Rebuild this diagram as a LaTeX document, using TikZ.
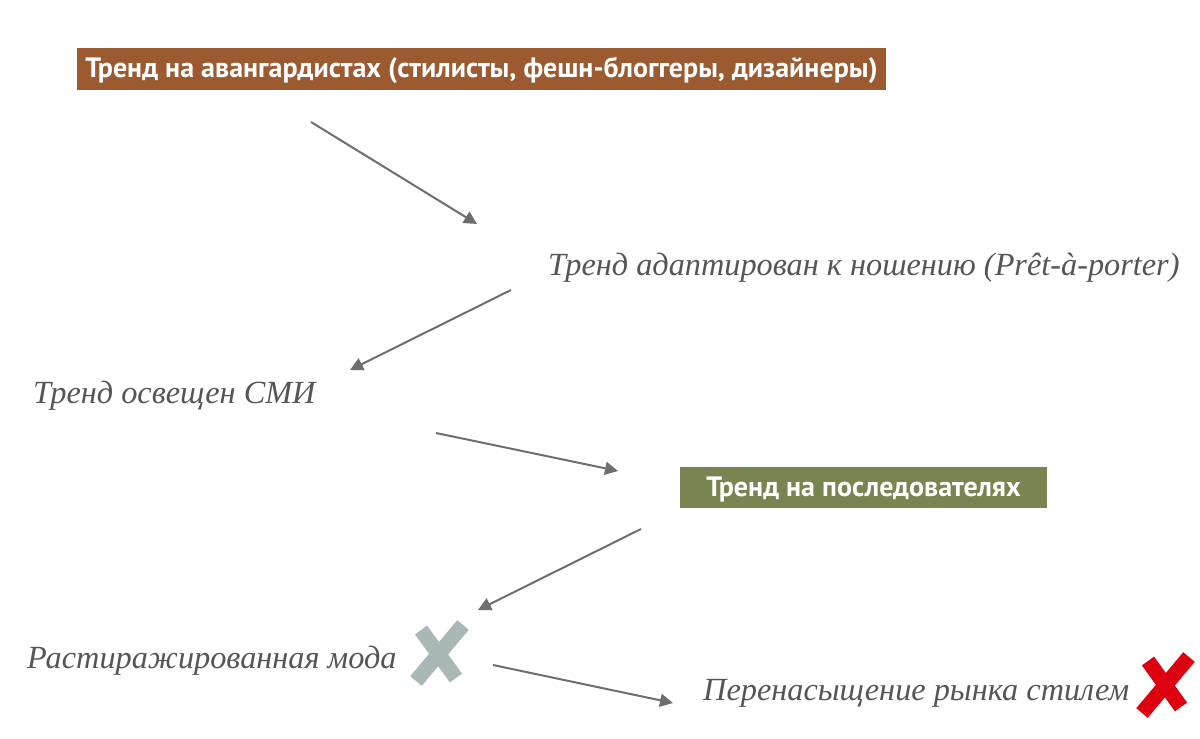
\documentclass[tikz,border=0pt]{standalone}
\usepackage{fontspec}
\setmainfont{Liberation Serif}
\newfontfamily\boxfont{PT Sans}
\usetikzlibrary{arrows.meta}
\definecolor{brownbox}{HTML}{9C5A30}
\definecolor{greenbox}{HTML}{7A8450}
\definecolor{txtgray}{HTML}{555555}
\definecolor{arrgray}{HTML}{6E6E6E}
\definecolor{xgray}{HTML}{A9B7B5}
\definecolor{xred}{HTML}{DD0011}
\tikzset{
  x=1pt,y=-1pt,
  boxlabel/.style={inner sep=0pt,text=white,font=\boxfont\bfseries\fontsize{28}{32}\selectfont,anchor=center},
  steplabel/.style={inner sep=0pt,text=txtgray,font=\itshape\fontsize{32.3}{37}\selectfont,anchor=base west},
  flow/.style={draw=arrgray,line width=2pt,-{Triangle[length=13pt,width=13pt]}},
  xstroke/.style={line width=15pt,line cap=butt}
}
\begin{document}
\begin{tikzpicture}
\useasboundingbox (0,0) rectangle (1200,739);
% boxes
\fill[brownbox] (77,48) rectangle (886,90);
\node[boxlabel] (avant) at (481.5,70) {Тренд на авангардистах (стилисты, фешн-блоггеры, дизайнеры)};
\fill[greenbox] (680,467) rectangle (1047,508);
\node[boxlabel] (follow) at (863.5,489) {Тренд на последователях};
% italic labels
\node[steplabel] (adapt) at (548,275) {Тренд адаптирован к ношению (Prêt-à-porter)};
\node[steplabel] (media) at (33,403) {Тренд освещен СМИ};
\node[steplabel] (mass) at (27,668) {Растиражированная мода};
\node[steplabel] (over) at (703,700) {Перенасыщение рынка стилем};
% arrow end points
\coordinate (a1s) at (311,122); \coordinate (a1e) at (477,224);
\coordinate (a2s) at (511,290); \coordinate (a2e) at (350,370);
\coordinate (a3s) at (436,433); \coordinate (a3e) at (618,471);
\coordinate (a4s) at (641,529); \coordinate (a4e) at (478,610);
\coordinate (a5s) at (493,665); \coordinate (a5e) at (673,703);
\draw[flow] (a1s) -- (a1e);
\draw[flow] (a2s) -- (a2e);
\draw[flow] (a3s) -- (a3e);
\draw[flow] (a4s) -- (a4e);
\draw[flow] (a5s) -- (a5e);
% crosses
\draw[xstroke,xgray] (416,681) -- (463,625);
\draw[xstroke,xgray] (421,630) -- (456,678);
\draw[xstroke,xred] (1142,713) -- (1189,657);
\draw[xstroke,xred] (1148,661) -- (1181,707);
\end{tikzpicture}
\end{document}
